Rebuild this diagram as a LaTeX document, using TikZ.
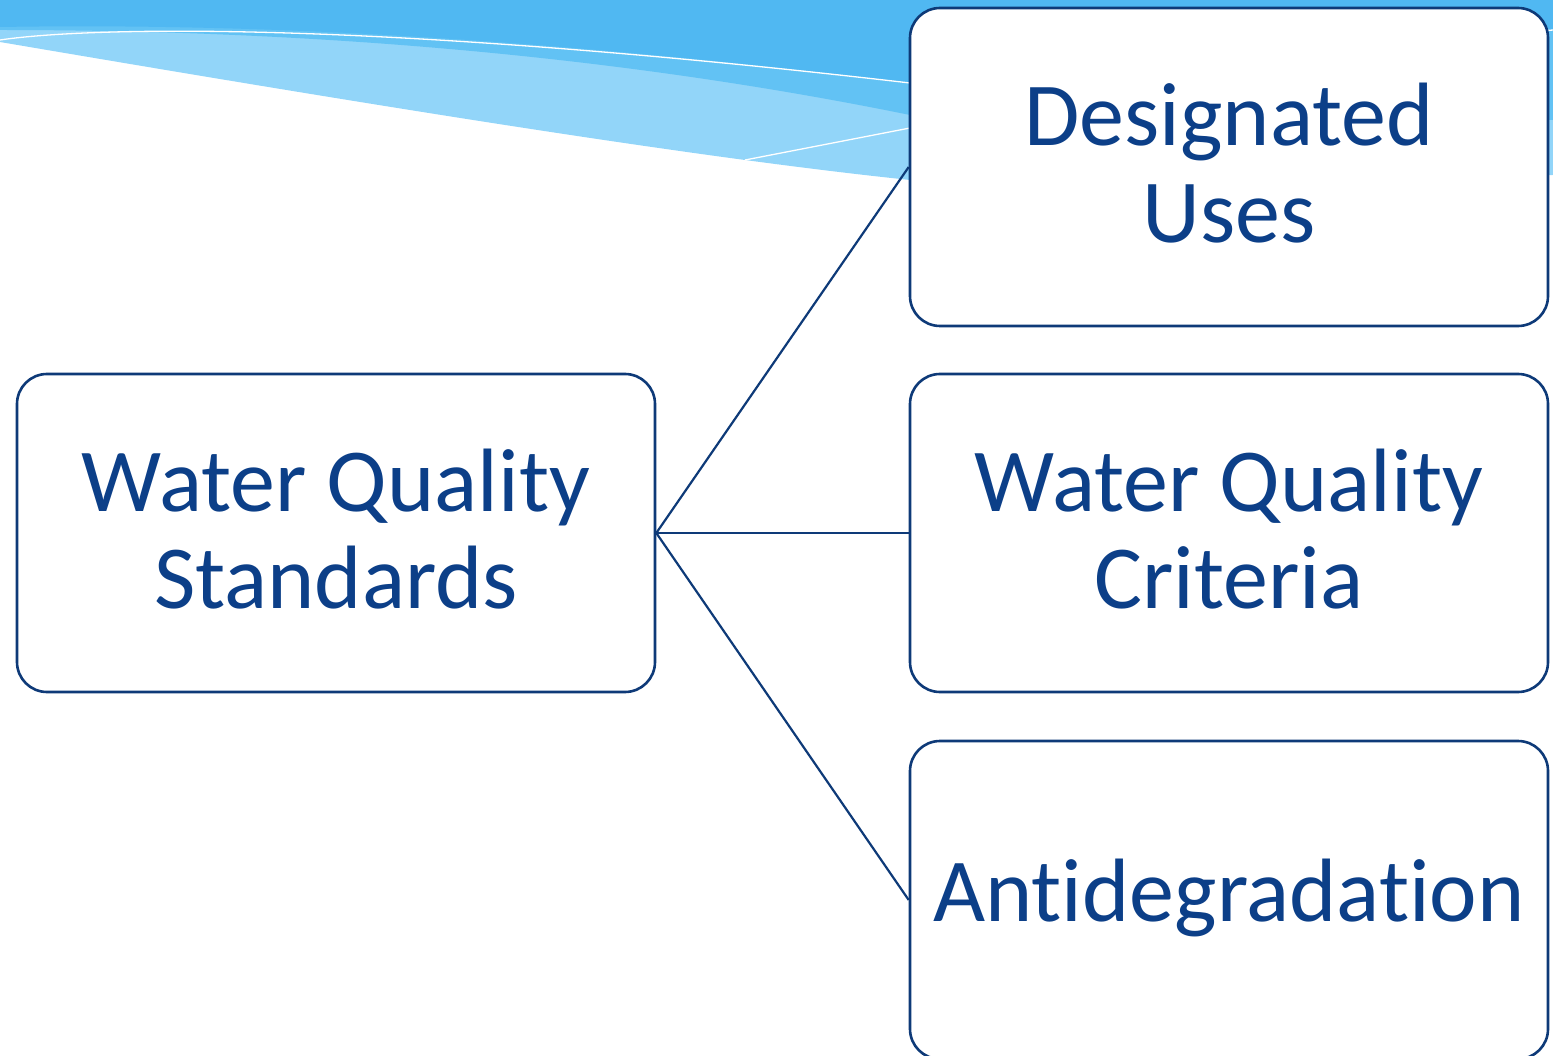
\documentclass[tikz,border=0pt]{standalone}
\usepackage{fontspec}
\setmainfont[RawFeature=-liga]{Carlito}
\definecolor{boxline}{HTML}{0E3A78}
\definecolor{txt}{HTML}{0C3F88}
\definecolor{wdark}{HTML}{50B8F2}
\definecolor{wmid}{HTML}{62C2F4}
\definecolor{wlight}{HTML}{92D5F9}
\tikzset{
  box/.style={draw=boxline, line width=2.6pt, fill=white, rounded corners=30pt,
    minimum width=638pt, minimum height=318pt, inner sep=0pt},
  label text/.style={inner sep=0pt, text=txt, align=center,
    font=\fontsize{90}{97}\selectfont},
  link/.style={draw=boxline, line width=2.2pt},
  wave/.style={white, line width=1.3pt}
}
\begin{document}
\begin{tikzpicture}[x=1pt,y=-1pt]
\useasboundingbox (0,0) rectangle (1553,1056);
\clip (0,0) rectangle (1553,1056);
% background waves
\fill[wlight] (0,0) -- (1553,0) -- (1553,175) -- (910,180)
  .. controls (700,158) and (400,110) .. (0,42) -- cycle;
\fill[wmid] (0,0) -- (1553,0) -- (1553,120) -- (910,115)
  .. controls (650,62) and (350,30) .. (0,30) -- cycle;
\fill[wdark] (0,0) -- (1553,0) -- (1553,30) -- (910,83)
  .. controls (600,45) and (300,22) .. (0,27) -- cycle;
\draw[wave] (0,40) .. controls (80,28) and (350,18) .. (910,83) -- (1553,30);
\coordinate (w1) at (745,160);
\coordinate (w2) at (910,128);
\draw[wave] (w1) -- (w2);
% boxes
\node[box] (wqs) at (336,533) {};
\node[box] (du)  at (1229,167) {};
\node[box] (wqc) at (1229,533) {};
\node[box] (ad)  at (1229,900) {};
\node[label text] (wqst) at ([yshift=4pt]wqs.center) {Water Quality\\Standards};
\node[label text] (dut) at ([yshift=4pt]du.center) {Designated\\Uses};
\node[label text] (wqct) at ([yshift=4pt]wqc.center) {Water Quality\\Criteria};
\node[label text] (adt) at ([yshift=2pt]ad.center) {Antidegradation};
% connectors
\draw[link] (wqs.east) -- (du.west);
\draw[link] (wqs.east) -- (wqc.west);
\draw[link] (wqs.east) -- (ad.west);
\end{tikzpicture}
\end{document}
